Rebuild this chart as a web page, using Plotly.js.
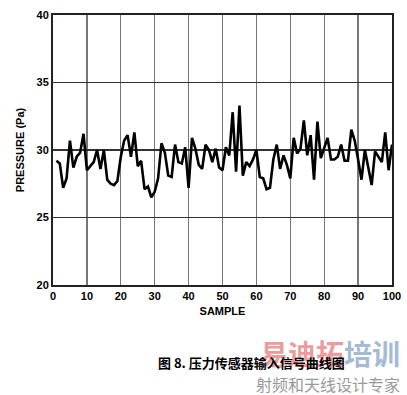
<!DOCTYPE html>
<html>
<head>
<meta charset="utf-8">
<script src="https://cdn.plot.ly/plotly-3.0.1.min.js"></script>
<style>html,body{margin:0;padding:0;background:#fff;}#chart{width:407px;height:395px;}</style>
</head>
<body>
<div id="chart"></div>
<script>
const samples = Array.from({length: 100}, (_, i) => i + 1);
const pressure = [
  29.2, 29.0, 27.2, 27.9, 30.7, 28.7, 29.5, 29.8, 31.2, 28.5,
  28.8, 29.1, 30.0, 28.6, 30.0, 27.8, 27.5, 27.4, 27.7, 29.5,
  30.7, 31.1, 29.5, 31.3, 28.8, 29.2, 27.1, 27.3, 26.5, 26.9,
  27.9, 30.5, 29.8, 28.1, 28.0, 30.4, 29.1, 29.0, 30.2, 27.2,
  30.9, 30.1, 28.9, 28.6, 30.4, 30.0, 29.1, 30.1, 28.7, 28.5,
  30.2, 29.6, 32.8, 28.4, 33.3, 28.1, 29.1, 28.8, 29.3, 30.0,
  28.0, 27.9, 27.1, 27.2, 29.3, 30.4, 28.6, 29.6, 28.9, 27.9,
  30.9, 29.75, 30.1, 32.2, 29.6, 31.1, 27.8, 32.1, 29.4, 30.2,
  30.9, 29.3, 29.3, 29.5, 30.4, 29.2, 29.2, 31.5, 30.7, 29.3,
  27.8, 30.0, 28.6, 27.4, 29.9, 29.5, 29.1, 31.3, 28.5, 30.4
];
const xTicks = [0,10,20,30,40,50,60,70,80,90,100];
const yTicks = [20,25,30,35,40];
const xTitle = 'SAMPLE';
const yTitle = 'PRESSURE (Pa)';
const caption = '图 8. 压力传感器输入信号曲线图';
const watermarkRed = '易迪拓';
const watermarkBlue = '培训';
const watermarkSub = '射频和天线设计专家';

const bold = {family: 'Liberation Sans, Arial, sans-serif', size: 11, color: '#000', weight: 'bold'};

Plotly.newPlot('chart', [{
  x: samples, y: pressure, type: 'scatter', mode: 'lines',
  line: {color: '#000', width: 2.6}, hoverinfo: 'skip'
}], {
  width: 407, height: 395,
  margin: {l: 53, r: 15, t: 15, b: 110},
  paper_bgcolor: '#fff', plot_bgcolor: '#fff',
  showlegend: false,
  xaxis: {
    range: [0, 100], tickvals: xTicks, ticktext: xTicks.map(String),
    showgrid: true, gridcolor: '#777', gridwidth: 1.3,
    zeroline: false, showline: true, linecolor: '#222', linewidth: 2, mirror: true,
    ticks: '', tickfont: bold,
    title: {text: '<b>' + xTitle + '</b>', font: bold, standoff: 6}
  },
  yaxis: {
    range: [20, 40], tickvals: yTicks, ticktext: yTicks.map(String),
    showgrid: true, gridcolor: '#333', gridwidth: 1.3,
    zeroline: false, showline: true, linecolor: '#222', linewidth: 2, mirror: true,
    ticks: '', tickfont: bold,
    title: {text: '<b>' + yTitle + '</b>', font: bold, standoff: 10}
  },
  annotations: [
    {xref: 'paper', yref: 'paper', x: 1.03, y: -0.252, xanchor: 'right', yanchor: 'middle',
     text: '<span style="color:#ec9c9c">' + watermarkRed + '</span><span style="color:#a3bbd4">' + watermarkBlue + '</span>',
     showarrow: false, font: {family: 'Noto Sans CJK SC', size: 28, weight: 'bold'}},
    {xref: 'paper', yref: 'paper', x: 1.03, y: -0.367, xanchor: 'right', yanchor: 'middle',
     text: watermarkSub, showarrow: false,
     font: {family: 'Noto Sans CJK SC', size: 16, color: '#9a9a9a'}},
    {xref: 'paper', yref: 'paper', x: 0.587, y: -0.288, xanchor: 'center', yanchor: 'middle',
     text: '<b>' + caption + '</b>', showarrow: false,
     font: {family: 'Noto Sans CJK SC', size: 13, color: '#000'}}
  ]
}, {displayModeBar: false, staticPlot: true});
</script>
</body>
</html>
